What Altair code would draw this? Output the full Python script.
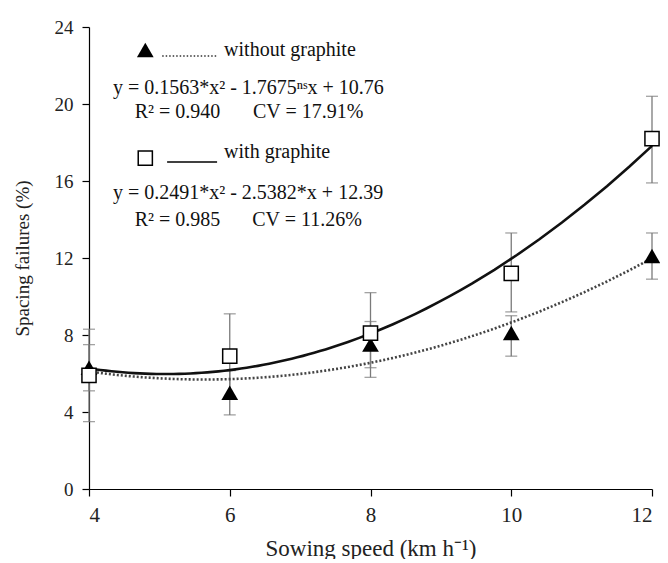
import altair as alt
import pandas as pd

# ---- data ----
speed = [4, 6, 8, 10, 12]
without_mean = [6.3, 5.0, 7.5, 8.1, 12.1]
without_lo = [5.1, 3.85, 6.3, 6.9, 10.9]
without_hi = [7.5, 6.15, 8.7, 9.0, 13.3]
with_mean = [5.9, 6.9, 8.1, 11.2, 18.2]
with_lo = [3.5, 4.7, 5.8, 9.2, 15.9]
with_hi = [8.3, 9.1, 10.2, 13.3, 20.4]

x_ticks = [4, 6, 8, 10, 12]
y_ticks = [0, 4, 8, 12, 16, 20, 24]

# annotation texts (legend + equations)
ann_text = [
    "without graphite",
    "y = 0.1563*x² - 1.7675ⁿˢx + 10.76",
    "R² = 0.940",
    "CV = 17.91%",
    "with graphite",
    "y = 0.2491*x² - 2.5382*x + 12.39",
    "R² = 0.985",
    "CV = 11.26%",
]
ann_x = [5.92, 4.34, 4.65, 6.33, 5.92, 4.34, 4.65, 6.32]
ann_y = [22.81, 20.83, 19.58, 19.58, 17.51, 15.38, 13.97, 13.97]

legend_sym_x = [4.80, 4.80]
legend_sym_y = [22.81, 17.19]
legend_line_x = [5.04, 5.11]
legend_line_x2 = [5.82, 5.82]
legend_line_y = [22.49, 16.99]

FONT = "Times New Roman, Liberation Serif, serif"

df_wo = pd.DataFrame({"speed": speed, "mean": without_mean, "lo": without_lo, "hi": without_hi})
df_w = pd.DataFrame({"speed": speed, "mean": with_mean, "lo": with_lo, "hi": with_hi})
df_ann = pd.DataFrame({"x": ann_x, "y": ann_y, "t": ann_text})

xscale = alt.Scale(domain=[4, 12], nice=False, zero=False)
yscale = alt.Scale(domain=[0, 24], nice=False)

X = alt.X("speed:Q", scale=xscale,
          axis=alt.Axis(values=x_ticks, format="d", title="Sowing speed (km h⁻¹)", grid=False,
                        tickSize=7, labelPadding=8, titlePadding=12,
                        labelFontSize=21, titleFontSize=23))
Y = alt.Y("mean:Q", scale=yscale,
          axis=alt.Axis(values=y_ticks, format="d", title="Spacing failures (%)", grid=False,
                        tickSize=7, labelPadding=9, titlePadding=22,
                        labelFontSize=19, titleFontSize=19))

def errbars(df):
    base = alt.Chart(df)
    rule = base.mark_rule(color="#7a7a7a", strokeWidth=1.3).encode(
        x=alt.X("speed:Q", scale=xscale), y=alt.Y("lo:Q", scale=yscale), y2="hi:Q")
    cap_lo = base.mark_tick(color="#7a7a7a", orient="horizontal", size=12, thickness=1.3).encode(
        x=alt.X("speed:Q", scale=xscale), y=alt.Y("lo:Q", scale=yscale))
    cap_hi = base.mark_tick(color="#7a7a7a", orient="horizontal", size=12, thickness=1.3).encode(
        x=alt.X("speed:Q", scale=xscale), y=alt.Y("hi:Q", scale=yscale))
    return rule + cap_lo + cap_hi

curve_wo = alt.Chart(df_wo).transform_regression(
    "speed", "mean", method="poly", order=2, extent=[4, 12]
).mark_line(color="#444444", strokeWidth=2.6, strokeDash=[2, 2]).encode(x=X, y=Y)

curve_w = alt.Chart(df_w).transform_regression(
    "speed", "mean", method="poly", order=2, extent=[4, 12]
).mark_line(color="#111111", strokeWidth=2.6).encode(x=X, y=Y)

TRI = 280
SQ = 200
pts_wo = alt.Chart(df_wo).mark_point(shape="triangle-up", filled=True, color="black",
                                     size=TRI, opacity=1).encode(x=X, y=Y)
pts_w = alt.Chart(df_w).mark_point(shape="square", filled=True, fill="white", stroke="black",
                                   strokeWidth=1.5, size=SQ, opacity=1).encode(x=X, y=Y)

# legend symbols and lines
df_lsym = pd.DataFrame({"x": legend_sym_x, "y": legend_sym_y})
leg_tri = alt.Chart(df_lsym.iloc[[0]]).mark_point(shape="triangle-up", filled=True, color="black",
                                                  size=TRI, opacity=1).encode(
    x=alt.X("x:Q", scale=xscale), y=alt.Y("y:Q", scale=yscale))
leg_sq = alt.Chart(df_lsym.iloc[[1]]).mark_point(shape="square", filled=True, fill="white",
                                                 stroke="black", strokeWidth=1.5, size=SQ,
                                                 opacity=1).encode(
    x=alt.X("x:Q", scale=xscale), y=alt.Y("y:Q", scale=yscale))

df_lline = pd.DataFrame({"x": legend_line_x, "x2": legend_line_x2, "y": legend_line_y})
leg_dot = alt.Chart(df_lline.iloc[[0]]).mark_rule(color="#333333", strokeWidth=1.5,
                                                  strokeDash=[1.5, 2]).encode(
    x=alt.X("x:Q", scale=xscale), x2="x2:Q", y=alt.Y("y:Q", scale=yscale))
leg_solid = alt.Chart(df_lline.iloc[[1]]).mark_rule(color="black", strokeWidth=1.5).encode(
    x=alt.X("x:Q", scale=xscale), x2="x2:Q", y=alt.Y("y:Q", scale=yscale))

ann = alt.Chart(df_ann).mark_text(align="left", baseline="middle", font=FONT, fontSize=20,
                                  color="#111111").encode(
    x=alt.X("x:Q", scale=xscale), y=alt.Y("y:Q", scale=yscale), text="t:N")

chart = alt.layer(
    errbars(df_wo), errbars(df_w), curve_wo, curve_w, pts_wo, pts_w,
    leg_tri, leg_sq, leg_dot, leg_solid, ann
).properties(
    width=563, height=462,
    autosize=alt.AutoSizeParams(type="none"),
    padding={"left": 81, "top": 19, "right": 8, "bottom": 70},
).configure_view(stroke=None).configure_axis(
    labelFont=FONT, titleFont=FONT, labelColor="#222222", titleColor="#222222",
    titleFontWeight="normal", domainColor="black", tickColor="black",
    domainWidth=1.2, tickWidth=1.2
)

chart.save("out.html", embed_options={"renderer": "svg", "actions": False})
